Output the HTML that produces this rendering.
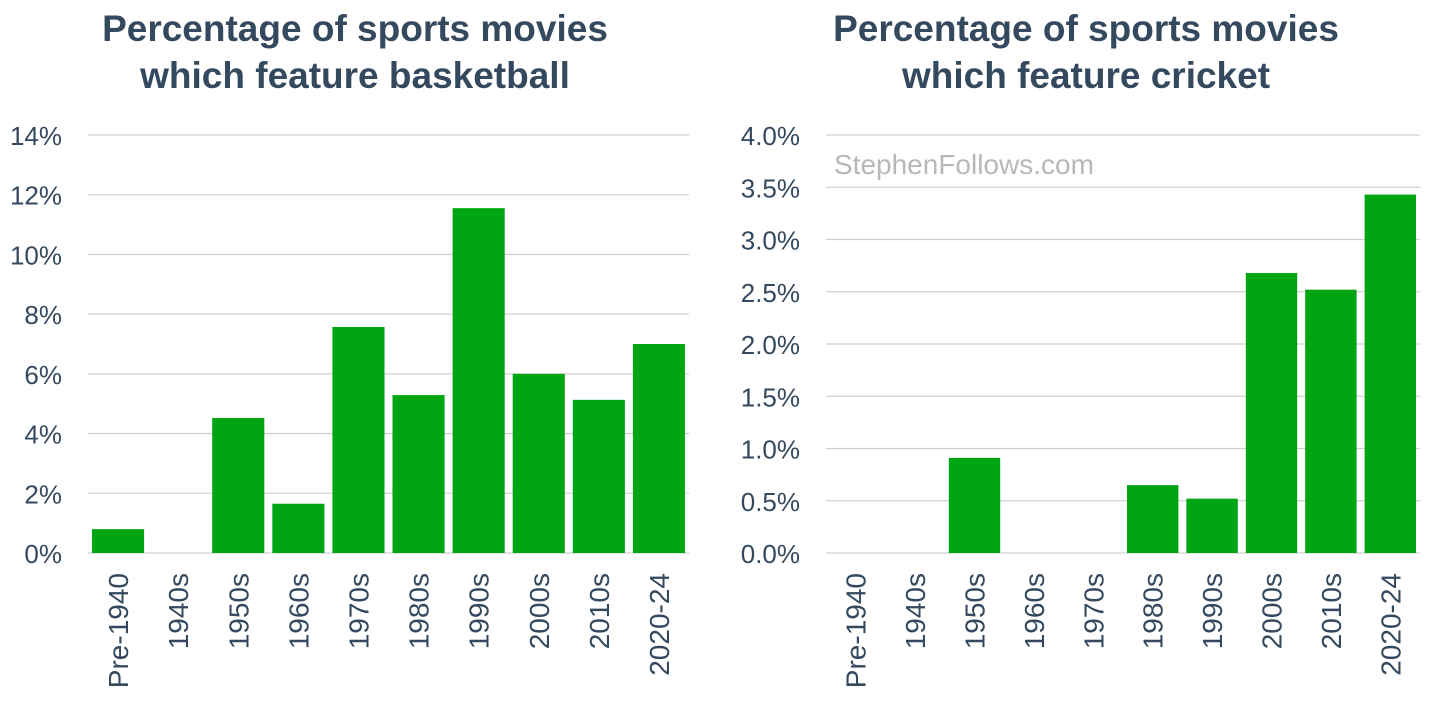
<!DOCTYPE html>
<html><head><meta charset="utf-8"><style>
html,body{margin:0;padding:0;background:#fff;width:1456px;height:719px;overflow:hidden}
text{font-family:"Liberation Sans",sans-serif}
</style></head><body>
<svg id="s" width="1456" height="719">
<text x="355" y="41" text-anchor="middle" font-size="37" font-weight="bold" fill="#34495e">Percentage of sports movies</text>
<text x="355" y="88" text-anchor="middle" font-size="37" font-weight="bold" fill="#34495e">which feature basketball</text>
<text x="1086" y="41" text-anchor="middle" font-size="37" font-weight="bold" fill="#34495e">Percentage of sports movies</text>
<text x="1086" y="88" text-anchor="middle" font-size="37" font-weight="bold" fill="#34495e">which feature cricket</text>
<text x="834" y="174" font-size="28" fill="#b8b8b8">StephenFollows.com</text>
</svg>
<script>
const categories=["Pre-1940","1940s","1950s","1960s","1970s","1980s","1990s","2000s","2010s","2020-24"];
const basketballValues=[0.8,0,4.52,1.65,7.57,5.29,11.55,6.0,5.13,7.0];
const cricketValues=[0,0,0.91,0,0,0.65,0.52,2.68,2.52,3.43];
const basketballTicks=[0,2,4,6,8,10,12,14];
const cricketTicks=[0,0.5,1,1.5,2,2.5,3,3.5,4];
const svg=document.getElementById('s');
const NS='http://www.w3.org/2000/svg';
function mk(tag,attrs,parent){const e=document.createElementNS(NS,tag);for(const k in attrs)e.setAttribute(k,attrs[k]);(parent||svg).appendChild(e);return e;}
function chart(prefix,x0,x1,y0,y1,max,ticks,vals,dec,labelX){
  const g=mk('g',{});
  
  
  const y=v=>y0-(v/max)*(y0-y1);
  const slot=(x1-x0)/categories.length;
  ticks.forEach(t=>{
    const l=mk('line',{x1:x0,x2:x1,y1:y(t),y2:y(t),stroke:'#d0d0d0','stroke-width':1.3},g);
    
    
    const tx=mk('text',{x:labelX,y:y(t)+10,'text-anchor':'end','font-size':26,fill:'#34495e'},g);
    tx.textContent=t.toFixed(dec)+'%';
    
    
  });
  vals.forEach((v,i)=>{
    const bx=x0+i*slot+4;
    if(v>0){
      const r=mk('rect',{x:bx,y:y(v),width:slot-8,height:y0-y(v),fill:'#00a513'},g);
      
      
    }
    const cx=x0+i*slot+slot/2;
    const tx=mk('text',{x:0,y:0,'text-anchor':'end','font-size':28,fill:'#34495e',transform:`translate(${cx+10},573) rotate(-90)`},g);
    tx.textContent=categories[i];
    
    
  });
}
chart('basketball',88,689,553,135,14,basketballTicks,basketballValues,0,62);
chart('cricket',826,1420,553,135,4,cricketTicks,cricketValues,1,800);
</script>
</body></html>
